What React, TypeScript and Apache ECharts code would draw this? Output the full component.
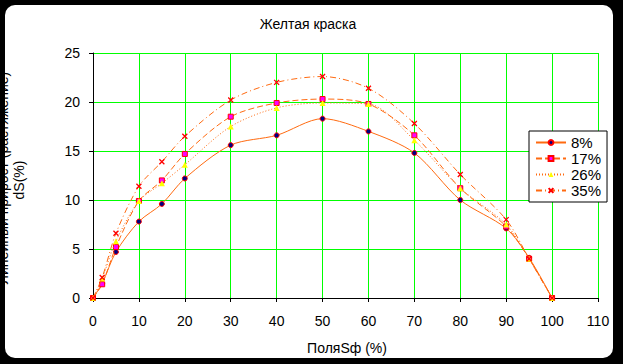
import React, { useEffect, useRef } from "react";
import * as echarts from "echarts";

const xs = [0, 2, 5, 10, 15, 20, 30, 40, 50, 60, 70, 80, 90, 95, 100];
const s8 = [0, 1.5, 4.7, 7.8, 9.6, 12.2, 15.6, 16.6, 18.3, 17.0, 14.8, 10.0, 7.1, 4.1, 0];
const s17 = [0, 1.4, 5.2, 9.9, 12.0, 14.7, 18.5, 19.9, 20.3, 19.8, 16.6, 11.2, 7.3, 4.0, 0];
const s26 = [0, 2.0, 5.8, 9.9, 11.7, 13.6, 17.5, 19.4, 19.9, 19.8, 16.1, 11.2, 7.5, 4.0, 0];
const s35 = [0, 2.1, 6.6, 11.4, 13.9, 16.5, 20.2, 22.0, 22.6, 21.4, 17.8, 12.6, 8.0, 4.0, 0];
const seriesNames = ["8%", "17%", "26%", "35%"];
const title = "Желтая краска";
const xTitle = "ПоляSф (%)";
const yTitle1 = "Линейный прирост (растяжение)";
const yTitle2 = "dS(%)";

const FONT = "Liberation Sans, Arial, sans-serif";
const LINE = "#ff6a10";

export default function App() {
  const ref = useRef<HTMLDivElement>(null);
  useEffect(() => {
    if (!ref.current) return;
    const chart = echarts.init(ref.current, null, { renderer: "svg" });
    const pair = (arr: number[]) => xs.map((x, i) => [x, arr[i]]);
    const styles = [
      { data: s8, type: "solid" as any, symbol: "circle", size: 5, color: "#000080", border: "#ff0000", bw: 1 },
      { data: s17, type: [6, 3], symbol: "rect", size: 5, color: "#ff00ff", border: "#ff0000", bw: 1 },
      { data: s26, type: [1, 2], symbol: "triangle", size: 6, color: "#ffff00", border: "#ffff00", bw: 0 },
      { data: s35, type: [6, 3, 1, 3], symbol: "path://M0,0L10,10M10,0L0,10", size: 5, color: "#ff0000", border: "#ff0000", bw: 1.3 },
    ];
    chart.setOption({
      animation: false,
      backgroundColor: "transparent",
      textStyle: { fontFamily: FONT },
      grid: { left: 93, right: 25, top: 53, bottom: 66 },
      legend: {
        orient: "vertical",
        left: 529,
        top: 131,
        padding: [4, 6, 4, 6],
        backgroundColor: "#fff",
        borderColor: "#000",
        borderWidth: 1,
        borderRadius: 0,
        itemWidth: 30,
        itemHeight: 6,
        itemGap: 1,
        textStyle: { fontSize: 15, color: "#000", fontFamily: FONT, lineHeight: 14 },
        data: seriesNames,
      },
      xAxis: {
        type: "value",
        min: 0,
        max: 110,
        interval: 10,
        axisLine: { show: true, lineStyle: { color: "#000", width: 1 } },
        axisTick: { show: true, inside: false, length: 4, lineStyle: { color: "#000" } },
        axisLabel: { fontSize: 14, color: "#000", margin: 16, fontFamily: FONT },
        splitLine: { show: true, lineStyle: { color: "#00ff00", width: 1 } },
      },
      yAxis: {
        type: "value",
        min: 0,
        max: 25,
        interval: 5,
        axisLine: { show: true, lineStyle: { color: "#000", width: 1 } },
        axisTick: { show: true, inside: false, length: 4, lineStyle: { color: "#000" } },
        axisLabel: { fontSize: 14, color: "#000", margin: 13, fontFamily: FONT },
        splitLine: { show: true, lineStyle: { color: "#00ff00", width: 1 } },
      },
      series: styles.map((s, i) => ({
        name: seriesNames[i],
        type: "line",
        smooth: 0.3,
        data: pair(s.data),
        symbol: s.symbol,
        symbolSize: s.size,
        showAllSymbol: true,
        lineStyle: { color: LINE, width: 1, type: s.type },
        itemStyle: { color: s.color, borderColor: s.border, borderWidth: s.bw },
        z: 2 + i,
      })),
      graphic: [
        {
          type: "text",
          x: 308,
          y: 24,
          style: { text: title, fill: "#000", font: `14px ${FONT}`, textAlign: "center", textVerticalAlign: "middle" },
        },
        {
          type: "text",
          x: 347,
          y: 348,
          style: { text: xTitle, fill: "#000", font: `14px ${FONT}`, textAlign: "center", textVerticalAlign: "middle" },
        },
        {
          type: "text",
          x: 3,
          y: 178,
          rotation: Math.PI / 2,
          style: { text: yTitle1, fill: "#000", font: `14px ${FONT}`, textAlign: "center", textVerticalAlign: "middle" },
        },
        {
          type: "text",
          x: 19,
          y: 180,
          rotation: Math.PI / 2,
          style: { text: yTitle2, fill: "#000", font: `14px ${FONT}`, textAlign: "center", textVerticalAlign: "middle" },
        },
      ],
    });
    return () => chart.dispose();
  }, []);
  return (
    <div style={{ position: "fixed", left: 0, top: 0, width: 623, height: 364, background: "#000" }}>
      <div
        style={{
          position: "absolute",
          left: 5,
          top: 5,
          width: 608,
          height: 353,
          background: "#fff",
          borderRadius: 10,
          overflow: "hidden",
        }}
      >
        <div ref={ref} style={{ position: "absolute", left: -5, top: -5, width: 623, height: 364 }} />
      </div>
    </div>
  );
}
